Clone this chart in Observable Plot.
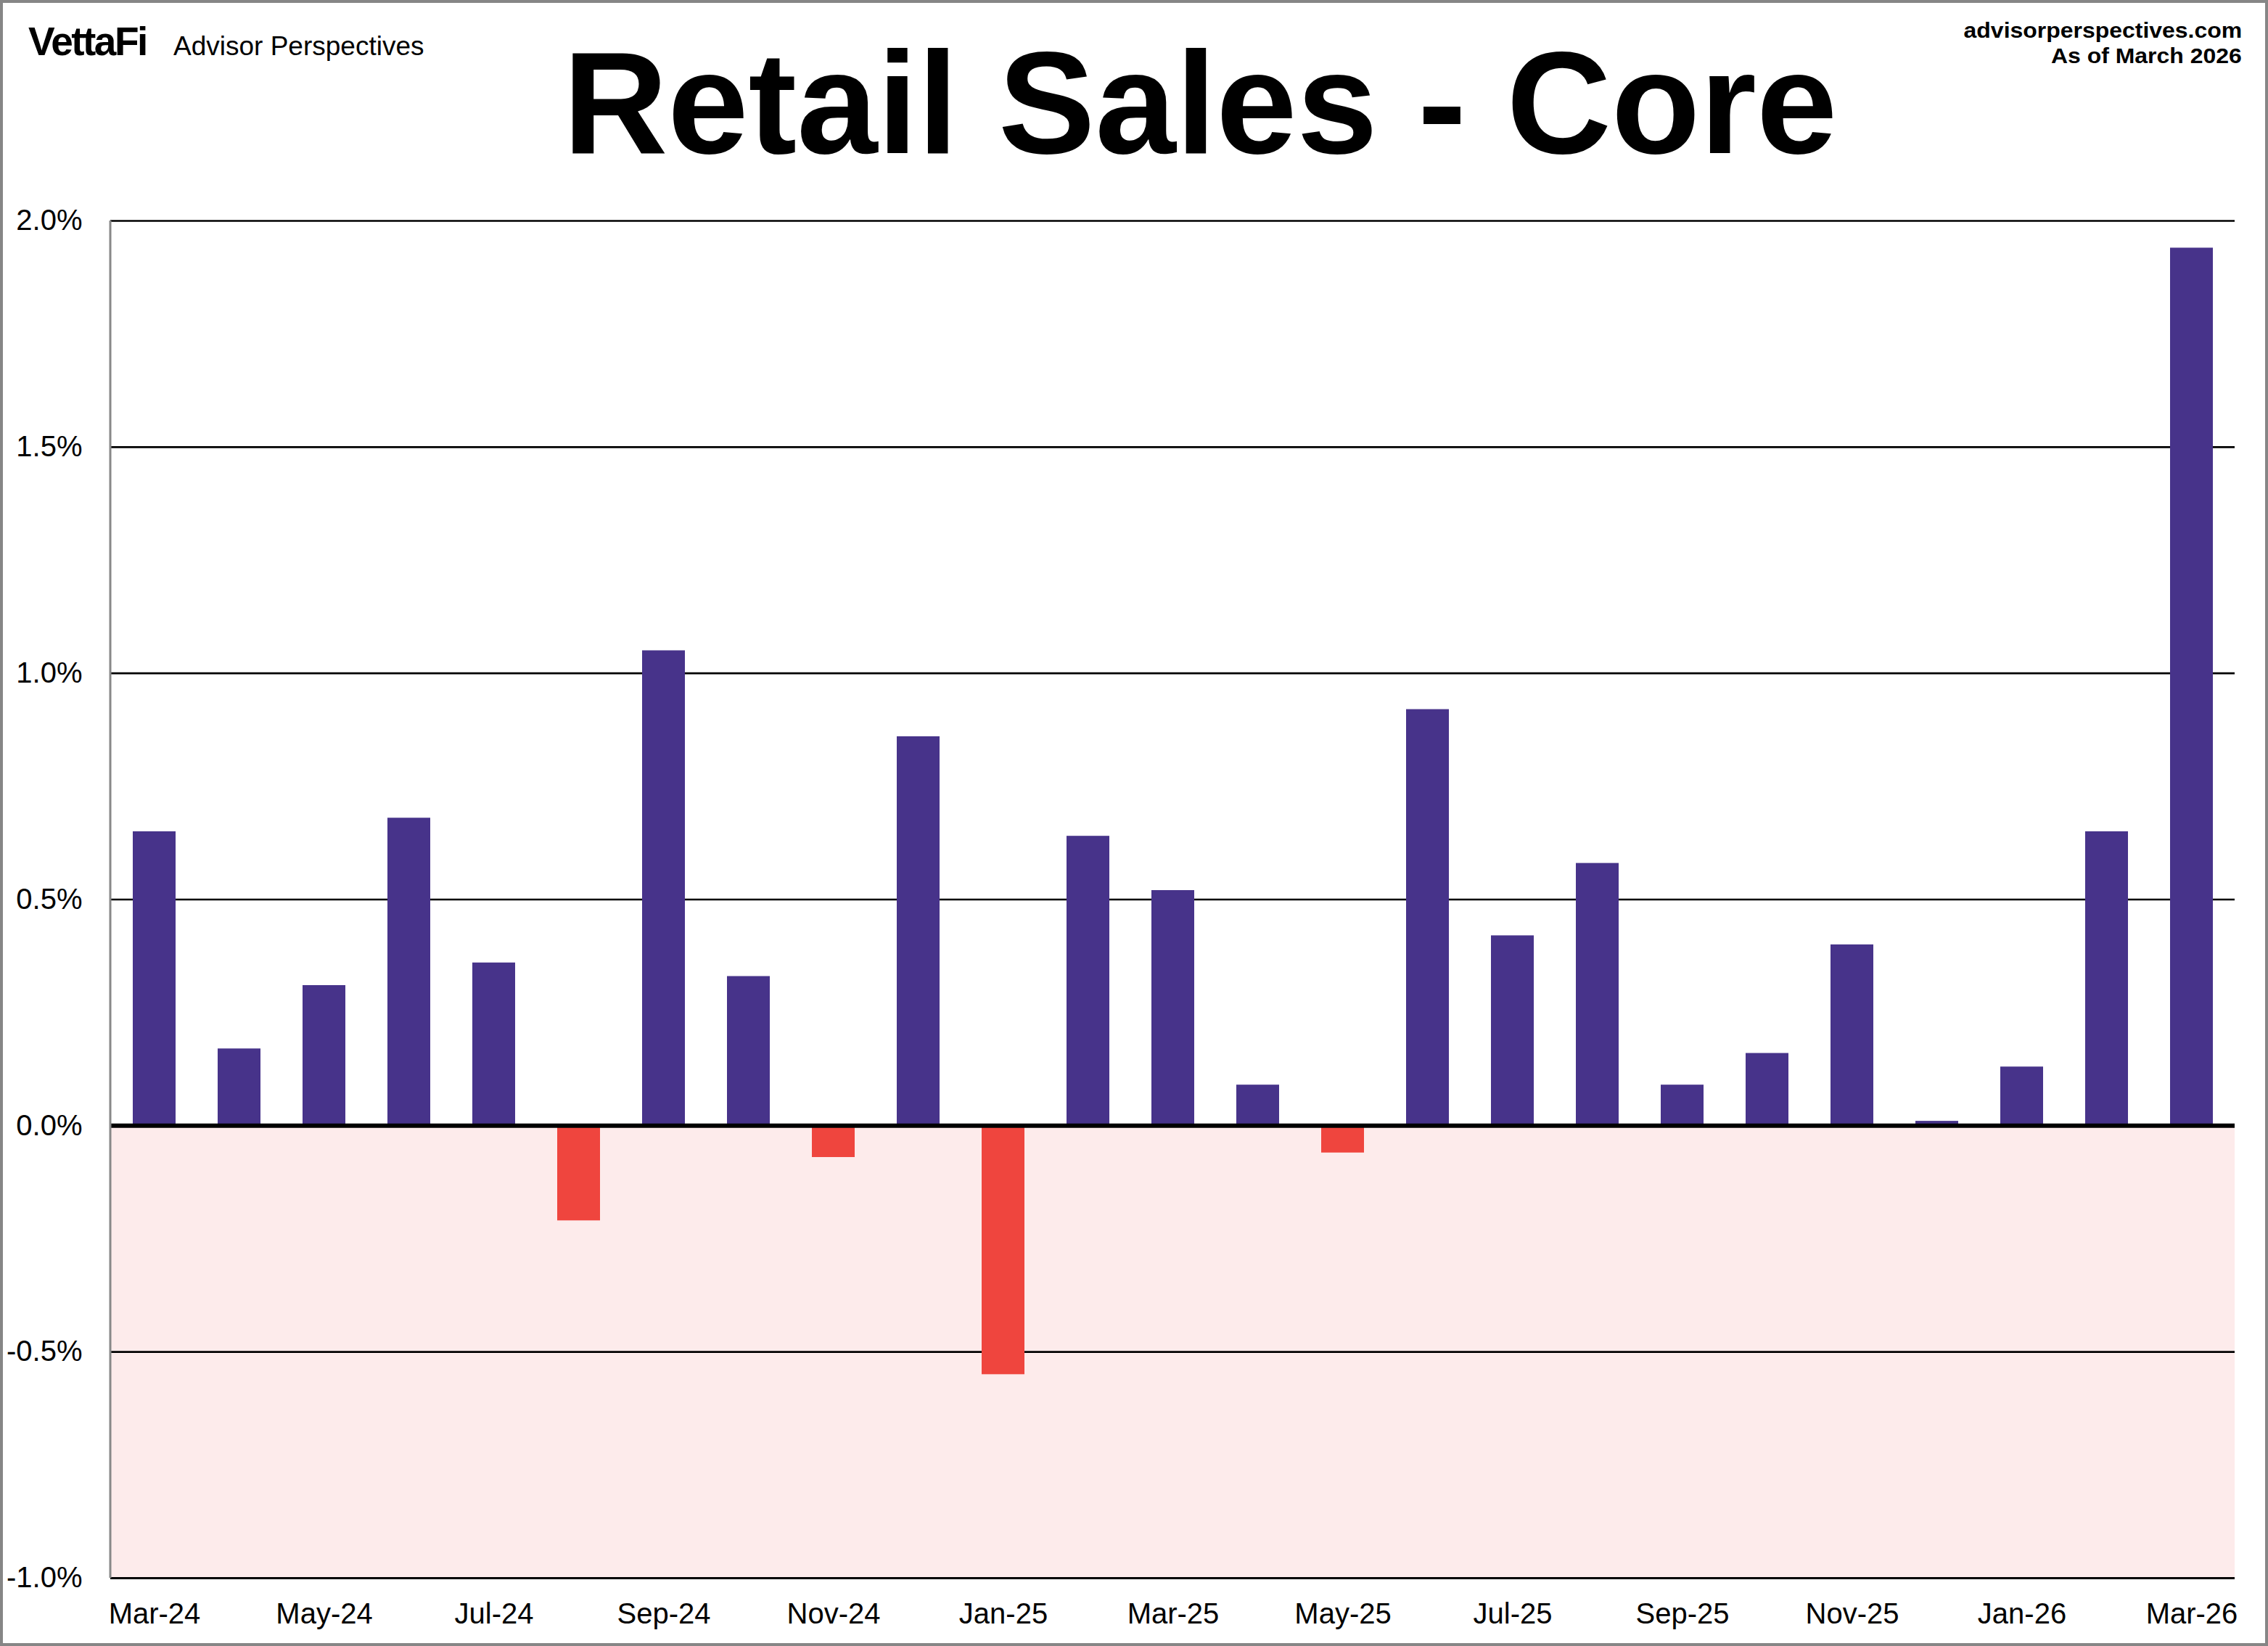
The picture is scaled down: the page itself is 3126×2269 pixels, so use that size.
<!DOCTYPE html>
<html>
<head>
<meta charset="utf-8">
<script src="https://cdn.jsdelivr.net/npm/d3@7"></script>
<script src="https://cdn.jsdelivr.net/npm/@observablehq/plot@0.6"></script>
<style>
  html, body { margin: 0; padding: 0; background: #fff; }
  #page { position: relative; width: 3126px; height: 2269px; overflow: hidden; background: #fff;
          font-family: "Liberation Sans", Arial, Helvetica, sans-serif; color: #000; }
  #border { position: absolute; left: 0; top: 0; width: 3126px; height: 2269px; box-sizing: border-box;
            border: 4px solid #868686; pointer-events: none; z-index: 5; }
  #header { position: relative; height: 250px; }
  .t { position: absolute; line-height: 1; white-space: nowrap; }
  #logo { left: 39px; top: 30px; font-size: 55px; font-weight: bold; letter-spacing: -2.5px; }
  #brand { left: 239px; top: 45px; font-size: 37px; }
  #title { left: 1654px; top: 42px; font-size: 200px; font-weight: bold; transform: translateX(-50%); }
  #site { right: 36px; top: 26.5px; font-size: 30px; font-weight: bold; transform: scaleX(1.065); transform-origin: right center; }
  #asof { right: 36px; top: 61.5px; font-size: 30px; font-weight: bold; transform: scaleX(1.065); transform-origin: right center; }
  #chart svg { display: block; }
</style>
</head>
<body>
<div id="page">
  <div id="header">
    <div class="t" id="logo">VettaFi</div>
    <div class="t" id="brand">Advisor Perspectives</div>
    <div class="t" id="title">Retail Sales - Core</div>
    <div class="t" id="site">advisorperspectives.com</div>
    <div class="t" id="asof">As of March 2026</div>
  </div>
  <div id="chart"></div>
  <div id="border"></div>
</div>
<script>
const months = ["Mar-24","Apr-24","May-24","Jun-24","Jul-24","Aug-24","Sep-24","Oct-24","Nov-24","Dec-24",
                "Jan-25","Feb-25","Mar-25","Apr-25","May-25","Jun-25","Jul-25","Aug-25","Sep-25","Oct-25",
                "Nov-25","Dec-25","Jan-26","Feb-26","Mar-26"];
const values = [0.65, 0.17, 0.31, 0.68, 0.36, -0.21, 1.05, 0.33, -0.07, 0.86,
                -0.55, 0.64, 0.52, 0.09, -0.06, 0.92, 0.42, 0.58, 0.09, 0.16,
                0.40, 0.01, 0.13, 0.65, 1.94];
const xTickLabels = ["Mar-24","May-24","Jul-24","Sep-24","Nov-24","Jan-25","Mar-25","May-25",
                     "Jul-25","Sep-25","Nov-25","Jan-26","Mar-26"];
const yTicks = [-1.0, -0.5, 0.0, 0.5, 1.0, 1.5, 2.0];
const yDomain = [-1.0, 2.0];
const negativeZone = [{lo: -1.0, hi: 0.0}];

const data = months.map((m, i) => ({month: m, value: values[i]}));

const purple = "#47338A";
const red = "#EF453E";
const pink = "#FDEBEB";

const chart = Plot.plot({
  width: 3126,
  height: 2019,
  marginLeft: 152,
  marginRight: 46,
  marginTop: 54,
  marginBottom: 94,
  style: {fontFamily: "'Liberation Sans', Arial, Helvetica, sans-serif", color: "#000", background: "transparent"},
  x: {type: "band", domain: months, paddingInner: 0.5, paddingOuter: 0.25, label: null},
  y: {domain: yDomain, label: null},
  marks: [
    Plot.rect(negativeZone, {y1: "lo", y2: "hi", fill: pink}),
    Plot.ruleY(yTicks.filter(d => d !== 0 && d !== -1), {stroke: "#000", strokeWidth: 2.6}),
    Plot.ruleY([-1], {stroke: "#000", strokeWidth: 3}),
    Plot.barY(data.filter(d => d.value >= 0), {x: "month", y: "value", fill: purple}),
    Plot.barY(data.filter(d => d.value < 0), {x: "month", y: "value", fill: red}),
    Plot.ruleY([0], {stroke: "#000", strokeWidth: 6}),
    Plot.axisY({ticks: yTicks, tickSize: 0, tickPadding: 39, fontSize: 40,
                tickFormat: d => d.toFixed(1) + "%", label: null}),
    Plot.axisX({ticks: xTickLabels, tickSize: 0, tickPadding: 34, fontSize: 40, label: null})
  ]
});
document.getElementById("chart").appendChild(chart);

// gray left edge of the plot area, placed from the chart's own scales
const xr = chart.scale("x").range;
const yr = chart.scale("y").range;
d3.select(chart).append("line")
  .attr("x1", xr[0]).attr("x2", xr[0])
  .attr("y1", Math.min(...yr)).attr("y2", Math.max(...yr))
  .attr("stroke", "#888").attr("stroke-width", 3);
</script>
</body>
</html>
